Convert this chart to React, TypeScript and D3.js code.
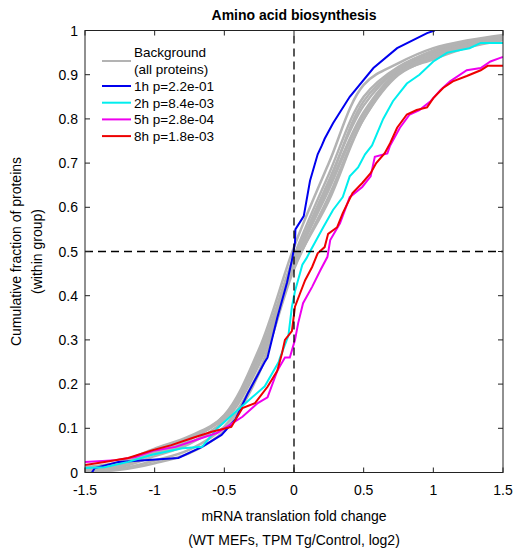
import React from "react";
import * as d3 from "d3";

const title = "Amino acid biosynthesis";
const xTicks = [-1.5, -1, -0.5, 0, 0.5, 1, 1.5];
const yTicks = [0, 0.1, 0.2, 0.3, 0.4, 0.5, 0.6, 0.7, 0.8, 0.9, 1];

// Background (all proteins) CDFs sampled at bgX
const bgX = [-1.5, -1.25, -1, -0.75, -0.5, -0.25, 0, 0.25, 0.5, 0.75, 1, 1.25, 1.5];
const bg1 = [0.012, 0.018, 0.045, 0.075, 0.13, 0.28, 0.51, 0.7, 0.877, 0.926, 0.96, 0.978, 0.99];
const bg2 = [0.008, 0.012, 0.037, 0.065, 0.12, 0.265, 0.49, 0.675, 0.85, 0.918, 0.952, 0.974, 0.988];
const bg3 = [0.01, 0.02, 0.046, 0.074, 0.128, 0.27, 0.48, 0.66, 0.83, 0.912, 0.948, 0.972, 0.986];
const bg4 = [0.012, 0.024, 0.054, 0.082, 0.128, 0.258, 0.47, 0.645, 0.815, 0.908, 0.945, 0.97, 0.985];
const bg5 = [0.002, 0.006, 0.021, 0.044, 0.095, 0.225, 0.47, 0.64, 0.81, 0.905, 0.942, 0.968, 0.982];
const bg6 = [0.003, 0.008, 0.027, 0.052, 0.104, 0.23, 0.46, 0.625, 0.8, 0.9, 0.938, 0.965, 0.98];
const bg7 = [0.006, 0.015, 0.042, 0.067, 0.115, 0.245, 0.465, 0.615, 0.8, 0.902, 0.935, 0.962, 0.978];
const bg8 = [0.01, 0.022, 0.05, 0.078, 0.124, 0.255, 0.48, 0.655, 0.84, 0.915, 0.955, 0.976, 0.987];
const bgSeries = [bg1, bg2, bg3, bg4, bg5, bg6, bg7, bg8];

// Time-point CDFs: [log2 fold change, cumulative fraction]
const h1: [number, number][] = [
  [-1.45, 0.0], [-1.43, 0.01], [-1.26, 0.024], [-0.83, 0.033], [-0.66, 0.058], [-0.52, 0.085],
  [-0.42, 0.12], [-0.33, 0.18], [-0.21, 0.25], [-0.19, 0.26], [-0.12, 0.35], [-0.05, 0.43],
  [-0.015, 0.48], [0.007, 0.52], [0.01, 0.55], [0.07, 0.58], [0.115, 0.66], [0.17, 0.72],
  [0.2, 0.74], [0.22, 0.755], [0.28, 0.79], [0.4, 0.85], [0.57, 0.915], [0.74, 0.96],
  [0.955, 0.994], [1.01, 1.0],
];
const h2: [number, number][] = [
  [-1.5, 0.01], [-1.36, 0.012], [-1.19, 0.024], [-1.02, 0.04], [-0.8, 0.055], [-0.66, 0.058],
  [-0.55, 0.1], [-0.42, 0.137], [-0.3, 0.17], [-0.21, 0.195], [-0.11, 0.25], [-0.1, 0.26],
  [-0.04, 0.31], [-0.015, 0.375], [0.007, 0.41], [0.06, 0.47], [0.09, 0.485], [0.115, 0.5],
  [0.21, 0.555], [0.28, 0.594], [0.35, 0.623], [0.4, 0.67], [0.46, 0.69], [0.51, 0.72],
  [0.56, 0.74], [0.64, 0.8], [0.71, 0.84], [0.81, 0.88], [0.9, 0.9], [1.0, 0.93],
  [1.1, 0.95], [1.26, 0.96], [1.34, 0.972], [1.5, 0.972],
];
const h5: [number, number][] = [
  [-1.5, 0.024], [-1.28, 0.028], [-1.14, 0.035], [-1.0, 0.05], [-0.85, 0.058], [-0.71, 0.073],
  [-0.55, 0.09], [-0.37, 0.126], [-0.26, 0.157], [-0.19, 0.17], [-0.12, 0.23], [-0.065, 0.26],
  [-0.03, 0.26], [0.007, 0.3], [0.03, 0.338], [0.065, 0.383], [0.13, 0.42], [0.19, 0.458],
  [0.24, 0.488], [0.26, 0.526], [0.33, 0.564], [0.4, 0.623], [0.49, 0.646], [0.55, 0.67],
  [0.58, 0.714], [0.67, 0.722], [0.69, 0.74], [0.76, 0.78], [0.83, 0.81], [0.9, 0.82],
  [0.98, 0.84], [1.05, 0.865], [1.12, 0.885], [1.24, 0.91], [1.34, 0.915], [1.41, 0.93],
  [1.48, 0.938], [1.5, 0.94],
];
const h8: [number, number][] = [
  [-1.5, 0.017], [-1.36, 0.024], [-1.19, 0.033], [-1.02, 0.05], [-0.88, 0.062], [-0.73, 0.078],
  [-0.59, 0.092], [-0.45, 0.103], [-0.37, 0.146], [-0.28, 0.157], [-0.19, 0.194], [-0.12, 0.23],
  [-0.086, 0.27], [-0.065, 0.3], [-0.015, 0.32], [0.007, 0.375], [0.043, 0.405], [0.08, 0.435],
  [0.13, 0.465], [0.17, 0.496], [0.22, 0.51], [0.245, 0.54], [0.31, 0.555], [0.35, 0.587],
  [0.42, 0.632], [0.49, 0.655], [0.55, 0.677], [0.59, 0.7], [0.65, 0.722], [0.69, 0.745],
  [0.74, 0.78], [0.81, 0.81], [0.88, 0.82], [0.955, 0.826], [1.0, 0.847], [1.07, 0.87],
  [1.14, 0.885], [1.24, 0.897], [1.34, 0.91], [1.39, 0.92], [1.5, 0.92],
];

const seriesNames = ["1h p=2.2e-01", "2h p=8.4e-03", "5h p=2.8e-04", "8h p=1.8e-03"];
const seriesColors = ["#0000ee", "#00eeee", "#ee00ee", "#ee0000"];
const seriesData = [h1, h2, h5, h8];

const W = 513;
const H = 548;
const M = { left: 85, right: 10, top: 30.5, bottom: 75.5 };

export default function App() {
  const x = d3.scaleLinear().domain([-1.5, 1.5]).range([M.left, W - M.right]);
  const y = d3.scaleLinear().domain([0, 1]).range([H - M.bottom, M.top]);
  const bgLine = d3
    .line<number>()
    .x((_, i) => x(bgX[i]))
    .y((d) => y(d))
    .curve(d3.curveCatmullRom.alpha(0.5));
  const cdfLine = d3
    .line<[number, number]>()
    .x((d) => x(d[0]))
    .y((d) => y(d[1]))
    .curve(d3.curveLinear);
  const font = "'Liberation Sans', Arial, sans-serif";
  const x0 = x(-1.5), x1 = x(1.5), y0 = y(0), y1 = y(1);
  const tl = 5;
  return (
    <svg
      width={W}
      height={H}
      style={{ position: "absolute", left: 0, top: 0, background: "#fff" }}
      fontFamily={font}
    >
      <defs>
        <clipPath id="plotclip">
          <rect x={x0} y={y1} width={x1 - x0} height={y0 - y1} />
        </clipPath>
      </defs>
      <g clipPath="url(#plotclip)">
        {bgSeries.map((s, i) => (
          <path key={i} d={bgLine(s) || ""} fill="none" stroke="#b3b3b3" strokeWidth={2.5} />
        ))}
        {seriesData.map((s, i) => (
          <path key={i} d={cdfLine(s) || ""} fill="none" stroke={seriesColors[i]} strokeWidth={2} />
        ))}
      </g>
      {/* dashed reference lines */}
      <line x1={x(0)} x2={x(0)} y1={y0} y2={y1} stroke="#000" strokeWidth={1.3} strokeDasharray="8,5" />
      <line x1={x0} x2={x1} y1={y(0.5)} y2={y(0.5)} stroke="#000" strokeWidth={1.3} strokeDasharray="8,5" />
      {/* frame */}
      <rect x={x0} y={y1} width={x1 - x0} height={y0 - y1} fill="none" stroke="#222" strokeWidth={1} />
      {xTicks.map((t) => (
        <g key={"x" + t}>
          <line x1={x(t)} x2={x(t)} y1={y0} y2={y0 - tl} stroke="#222" />
          <line x1={x(t)} x2={x(t)} y1={y1} y2={y1 + tl} stroke="#222" />
          <text x={x(t)} y={y0 + 22} textAnchor="middle" fontSize={14}>
            {String(t)}
          </text>
        </g>
      ))}
      {yTicks.map((t) => (
        <g key={"y" + t}>
          <line x1={x0} x2={x0 + tl} y1={y(t)} y2={y(t)} stroke="#222" />
          <line x1={x1} x2={x1 - tl} y1={y(t)} y2={y(t)} stroke="#222" />
          <text x={x0 - 7} y={y(t) + 5} textAnchor="end" fontSize={14}>
            {String(t)}
          </text>
        </g>
      ))}
      <text x={(x0 + x1) / 2} y={20} textAnchor="middle" fontSize={14} fontWeight="bold">
        {title}
      </text>
      <text x={(x0 + x1) / 2} y={521} textAnchor="middle" fontSize={14}>
        mRNA translation fold change
      </text>
      <text x={(x0 + x1) / 2} y={545} textAnchor="middle" fontSize={14}>
        (WT MEFs, TPM Tg/Control, log2)
      </text>
      <text transform={`translate(21,${y(0.5)}) rotate(-90)`} textAnchor="middle" fontSize={14}>
        Cumulative fraction of proteins
      </text>
      <text transform={`translate(42,${y(0.5)}) rotate(-90)`} textAnchor="middle" fontSize={14}>
        (within group)
      </text>
      {/* legend */}
      <g fontSize={13.5}>
        <line x1={102} x2={131} y1={61} y2={61} stroke="#b3b3b3" strokeWidth={2} />
        <text x={134} y={57}>Background</text>
        <text x={134} y={73.5}>(all proteins)</text>
        {seriesNames.map((n, i) => (
          <g key={n}>
            <line x1={102} x2={131} y1={86 + i * 16.7} y2={86 + i * 16.7} stroke={seriesColors[i]} strokeWidth={2} />
            <text x={134} y={86 + i * 16.7 + 5}>{n}</text>
          </g>
        ))}
      </g>
    </svg>
  );
}
